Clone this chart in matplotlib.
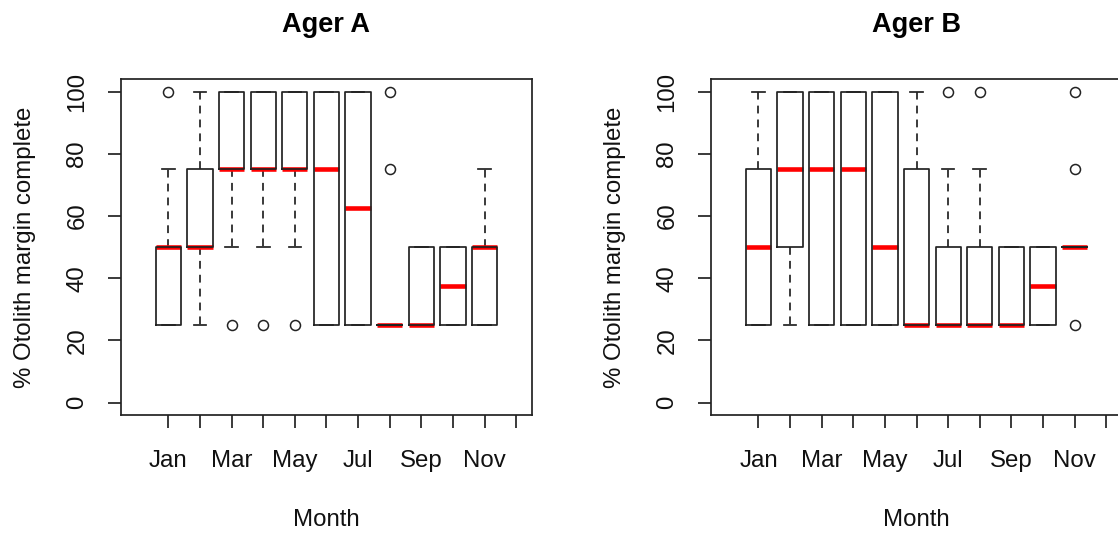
import numpy as np
import matplotlib.pyplot as plt

plt.rcParams['font.family'] = ['Liberation Sans', 'DejaVu Sans']

months = ['Jan', 'Feb', 'Mar', 'Apr', 'May', 'Jun',
          'Jul', 'Aug', 'Sep', 'Oct', 'Nov', 'Dec']

# Ager A: box statistics per month (Jan-Nov, no December samples)
a_q1 = [25, 50, 75, 75, 75, 25, 25, 25, 25, 25, 25]
a_med = [50, 50, 75, 75, 75, 75, 62.5, 25, 25, 37.5, 50]
a_q3 = [50, 75, 100, 100, 100, 100, 100, 25, 50, 50, 50]
a_lo = [25, 25, 50, 50, 50, 25, 25, 25, 25, 25, 25]
a_hi = [75, 100, 100, 100, 100, 100, 100, 25, 50, 50, 75]
a_out = [[100], [], [25], [25], [25], [], [], [75, 100], [], [], []]

# Ager B
b_q1 = [25, 50, 25, 25, 25, 25, 25, 25, 25, 25, 50]
b_med = [50, 75, 75, 75, 50, 25, 25, 25, 25, 37.5, 50]
b_q3 = [75, 100, 100, 100, 100, 75, 50, 50, 50, 50, 50]
b_lo = [25, 25, 25, 25, 25, 25, 25, 25, 25, 25, 50]
b_hi = [100, 100, 100, 100, 100, 100, 75, 75, 50, 50, 50]
b_out = [[], [], [], [], [], [], [100], [100], [], [], [25, 75, 100]]


def make_stats(q1, med, q3, lo, hi, out):
    return [dict(q1=a, med=m, q3=b, whislo=l, whishi=h, fliers=f)
            for a, m, b, l, h, f in zip(q1, med, q3, lo, hi, out)]


def draw_panel(ax, stats, title):
    pos = np.arange(1, len(stats) + 1)
    lw = 1.25
    ax.bxp(stats, positions=pos, widths=0.8, capwidths=0.4,
           boxprops=dict(color='#222222', linewidth=lw, zorder=3),
           whiskerprops=dict(color='#222222', linewidth=lw,
                             linestyle=(0, (4.5, 3.5))),
           capprops=dict(color='#222222', linewidth=lw),
           medianprops=dict(color='red', linewidth=3.3,
                            solid_capstyle='butt', zorder=2.5),
           flierprops=dict(marker='o', markerfacecolor='none',
                           markeredgecolor='#222222', markersize=7.2,
                           markeredgewidth=1.1))
    ax.set_xlim(-0.5, 12.5)
    ax.set_ylim(-4, 104)
    ax.set_xticks(np.arange(1, 13))
    ax.set_xticklabels([m if i % 2 == 0 else '' for i, m in enumerate(months)])
    ax.set_yticks([0, 20, 40, 60, 80, 100])
    ax.set_yticklabels(['0', '20', '40', '60', '80', '100'],
                       rotation=90, va='center')
    ax.tick_params(axis='both', length=9.5, width=lw, labelsize=17.3,
                   color='#222222', labelcolor='#111111')
    ax.tick_params(axis='x', pad=16)
    ax.tick_params(axis='y', pad=14)
    for s in ax.spines.values():
        s.set_linewidth(lw)
        s.set_color('#222222')
    ax.set_title(title, fontsize=19.5, fontweight='bold', pad=34)
    ax.set_xlabel('Month', fontsize=17.3, labelpad=26, color='#111111')
    ax.set_ylabel('% Otolith margin complete', fontsize=17.3, labelpad=22,
                  color='#111111')


fig = plt.figure(figsize=(11.18, 5.34), dpi=100)
ax1 = fig.add_axes([0.1082, 0.2228, 0.3676, 0.629])
ax2 = fig.add_axes([0.636, 0.2228, 0.3676, 0.629])

draw_panel(ax1, make_stats(a_q1, a_med, a_q3, a_lo, a_hi, a_out), 'Ager A')
draw_panel(ax2, make_stats(b_q1, b_med, b_q3, b_lo, b_hi, b_out), 'Ager B')

fig.savefig('out.png', dpi=100)
